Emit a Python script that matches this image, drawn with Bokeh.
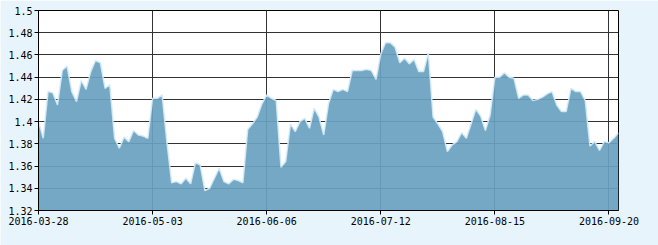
from bokeh.plotting import figure
from bokeh.models import ColumnDataSource, Range1d, FixedTicker, CustomJSTickFormatter
from bokeh.embed import file_html
from bokeh.resources import INLINE

# Net value series, one point per trading day (2016-03-28 .. 2016-09-22)
values = [
    1.400, 1.385, 1.427, 1.426, 1.415, 1.446, 1.450, 1.427, 1.418, 1.437,
    1.429, 1.445, 1.455, 1.453, 1.430, 1.433, 1.385, 1.376, 1.386, 1.382,
    1.392, 1.388, 1.387, 1.385, 1.421, 1.421, 1.424, 1.382, 1.345, 1.346,
    1.344, 1.349, 1.344, 1.363, 1.361, 1.338, 1.340, 1.349, 1.358, 1.346,
    1.344, 1.348, 1.347, 1.345, 1.393, 1.398, 1.404, 1.416, 1.424, 1.421,
    1.419, 1.359, 1.364, 1.398, 1.391, 1.400, 1.403, 1.394, 1.412, 1.404,
    1.388, 1.416, 1.429, 1.427, 1.429, 1.427, 1.446, 1.446, 1.446, 1.447,
    1.446, 1.438, 1.461, 1.471, 1.471, 1.467, 1.453, 1.457, 1.452, 1.456,
    1.445, 1.445, 1.462, 1.404, 1.398, 1.391, 1.373, 1.379, 1.382, 1.390,
    1.385, 1.398, 1.411, 1.405, 1.392, 1.406, 1.440, 1.440, 1.444, 1.440,
    1.439, 1.421, 1.424, 1.424, 1.419, 1.420, 1.422, 1.425, 1.427, 1.415,
    1.409, 1.409, 1.430, 1.427, 1.427, 1.419, 1.378, 1.382, 1.374, 1.382,
    1.381, 1.385, 1.390,
]
x_index = list(range(len(values)))

tick_labels = ["2016-03-28", "2016-05-03", "2016-06-06", "2016-07-12", "2016-08-15", "2016-09-20"]
tick_index = [0, 24, 48, 72, 96, 120]
y_ticks = [1.32, 1.34, 1.36, 1.38, 1.40, 1.42, 1.44, 1.46, 1.48, 1.50]

source = ColumnDataSource(dict(x=x_index, y=values, base=[1.32] * len(values)))

p = figure(frame_width=580, frame_height=200, width=658, height=245,
           output_backend="svg", toolbar_location=None,
           x_range=Range1d(0, len(values) - 1), y_range=Range1d(1.32, 1.50),
           min_border_left=38, min_border_right=40, min_border_top=10, min_border_bottom=35)

p.border_fill_color = "#e8f4fc"
p.background_fill_color = "white"
p.outline_line_color = "black"
p.outline_line_width = 1

p.varea(x="x", y1="base", y2="y", source=source, fill_color="#68a1c0", fill_alpha=0.92)
p.line(x="x", y="y", source=source, line_color="#d4eaf7", line_width=1.5, line_alpha=0.9)

p.xaxis.ticker = FixedTicker(ticks=tick_index)
p.xaxis.major_label_overrides = {i: l for i, l in zip(tick_index, tick_labels)}
p.yaxis.ticker = FixedTicker(ticks=y_ticks)
p.yaxis.formatter = CustomJSTickFormatter(code="return String(parseFloat(tick.toFixed(2)));")

for ax in (p.xaxis, p.yaxis):
    ax.axis_line_color = "black"
    ax.axis_line_width = 1
    ax.major_tick_line_color = "black"
    ax.major_tick_out = 4
    ax.major_tick_in = 0
    ax.minor_tick_line_color = None
    ax.major_label_text_font = "DejaVu Sans Mono"
    ax.major_label_text_font_size = "10px"
    ax.major_label_text_color = "black"
    ax.major_label_standoff = 2

p.xgrid.ticker = FixedTicker(ticks=tick_index)
p.ygrid.ticker = FixedTicker(ticks=y_ticks)
p.grid.grid_line_color = "#333333"
p.grid.grid_line_width = 1

open("out.html", "w").write(file_html(p, INLINE))
